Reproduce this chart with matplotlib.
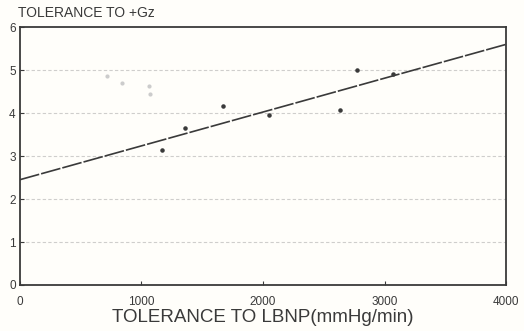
import matplotlib
matplotlib.use("Agg")
from matplotlib import pyplot as plt
import numpy as np

# data
lbnp = [1170, 1360, 1670, 2050, 2630, 2770, 3070]
gz = [3.15, 3.65, 4.16, 3.96, 4.07, 5.0, 4.9]
faint_lbnp = [715, 840, 1060, 1070]
faint_gz = [4.87, 4.7, 4.63, 4.45]
fit_x = [0, 4000]
fit_y = [2.45, 5.6]
xticks = [0, 1000, 2000, 3000, 4000]
xticklabels = ["0", "1000", "2000", "3000", "4000"]
yticks = [0, 1, 2, 3, 4, 5, 6]

ink = "#3a3a3a"
plt.rcParams["font.family"] = ["Liberation Sans", "DejaVu Sans"]

fig = plt.figure(figsize=(5.24, 3.31), dpi=100)
fig.patch.set_facecolor("#fffefa")
ax = fig.add_axes([0.038, 0.139, 0.928, 0.779])
ax.set_facecolor("#fffefa")

# faint dotted grid rows
for yv in [1, 2, 3, 4, 5]:
    ax.axhline(yv, color="#a0a0a0", lw=0.8, ls=(0, (3, 2)), alpha=0.5, zorder=1)

ax.plot(fit_x, fit_y, color=ink, lw=1.2, ls=(0, (12, 1.2)), zorder=3)
ax.scatter(lbnp, gz, s=5, color=ink, zorder=4)
ax.scatter(faint_lbnp, faint_gz, s=4, color="#cccccc", zorder=2)

ax.set_xlim(0, 4000)
ax.set_ylim(0, 6)
ax.set_xticks(xticks)
ax.set_xticklabels(xticklabels)
ax.set_yticks(yticks)
ax.tick_params(direction="in", length=3, color=ink, labelcolor=ink, labelsize=8.5)
ax.tick_params(axis="y", pad=3)
ax.tick_params(axis="x", pad=8)
for s in ax.spines.values():
    s.set_color(ink)
    s.set_linewidth(1.3)

ax.set_xlabel("TOLERANCE TO LBNP(mmHg/min)", fontsize=13.5, color=ink, labelpad=1)
fig.text(0.034, 0.94, "TOLERANCE TO +Gz", fontsize=10, color=ink, ha="left", va="bottom")

plt.savefig("out.png", dpi=100, facecolor=fig.get_facecolor())
